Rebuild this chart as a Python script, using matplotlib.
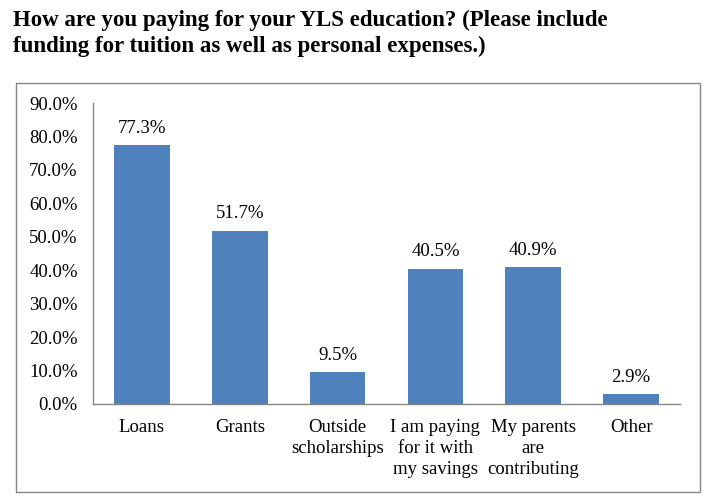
import matplotlib
matplotlib.use('Agg')
import matplotlib.pyplot as plt
import matplotlib.patches as mpatches

categories = ['Loans', 'Grants', 'Outside\nscholarships', 'I am paying\nfor it with\nmy savings',
              'My parents\nare\ncontributing', 'Other']
values = [77.3, 51.7, 9.5, 40.5, 40.9, 2.9]
yticks = [0, 10, 20, 30, 40, 50, 60, 70, 80, 90]

plt.rcParams['font.family'] = ['Liberation Serif', 'DejaVu Serif']

fig = plt.figure(figsize=(7.16, 5.03), dpi=100)
ax = fig.add_axes([93 / 716, 1 - 404 / 503, 587 / 716, 301 / 503])

x = range(len(categories))
bars = ax.bar(x, values, width=0.57, color='#4F81BD')
for b, v in zip(bars, values):
    ax.text(b.get_x() + b.get_width() / 2, v + 2.6, f'{v:.1f}%', ha='center', va='bottom', fontsize=13.5)

ax.set_xlim(-0.5, len(categories) - 0.5)
ax.set_ylim(0, 90)
ax.set_yticks(yticks)
ax.set_yticklabels([f'{t:.1f}%' for t in yticks], fontsize=13.5)
ax.set_xticks(list(x))
ax.set_xticklabels(categories, fontsize=13.5, linespacing=1.3, va='top')
ax.tick_params(axis='both', length=0)
ax.tick_params(axis='y', pad=11)
ax.tick_params(axis='x', pad=11)
for s in ['top', 'right']:
    ax.spines[s].set_visible(False)
for s in ['left', 'bottom']:
    ax.spines[s].set_color('#868686')
    ax.spines[s].set_linewidth(1)

# outer chart border
border = mpatches.Rectangle((15.5 / 716, 1 - 492 / 503), 684.5 / 716, 409 / 503, transform=fig.transFigure,
                            fill=False, edgecolor='#868686', linewidth=1)
fig.patches.append(border)

fig.text(13 / 716, 1 - 10 / 503,
         'How are you paying for your YLS education? (Please include\nfunding for tuition as well as personal expenses.)',
         ha='left', va='top', fontsize=16.5, fontweight='bold', linespacing=1.3)

fig.savefig('out.png', dpi=100)
